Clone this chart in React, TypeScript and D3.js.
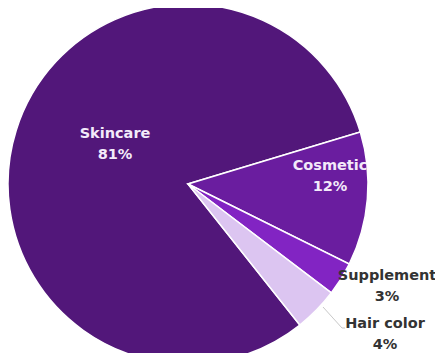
import React from "react";
import * as d3 from "d3";

const categories = ["Skincare", "Cosmetic", "Supplement", "Hair color"];
const values = [81, 12, 3, 4];
const colors = ["#52177a", "#6a1d9f", "#8224c3", "#dcc5f1"];

const W = 443;
const H = 361;
const cx = 188;
const cy = 184;
const R = 180;

export default function App() {
  const data = categories.map((c, i) => ({ name: c, value: values[i], color: colors[i] }));
  const start = (141.6 * Math.PI) / 180;
  const pie = d3
    .pie<any>()
    .value((d) => d.value)
    .sort(null)
    .startAngle(start)
    .endAngle(start + 2 * Math.PI);
  const arcs = pie(data);
  const arc = d3.arc<any>().innerRadius(0).outerRadius(R);

  return (
    <div style={{ margin: -8 }}>
      <svg width={W} height={H} style={{ display: "block", background: "#fff" }}>
        <defs>
          <clipPath id="pieclip">
            <circle cx={cx} cy={cy} r={R} />
          </clipPath>
        </defs>
        <g transform={`translate(${cx},${cy})`}>
          {arcs.map((a, i) => (
            <path key={i} d={arc(a) as string} fill={a.data.color} stroke="#fff" strokeWidth={1.5} />
          ))}
        </g>
        <g fontFamily="DejaVu Sans, Verdana, sans-serif" fontWeight="bold" fontSize={14.5} textAnchor="middle">
          <text x={115} y={138} fill="#f3eafa">{categories[0]}</text>
          <text x={115} y={159} fill="#f3eafa">{values[0]}%</text>
          <g clipPath="url(#pieclip)">
            <text x={330} y={170} fill="#f3eafa">{categories[1]}</text>
            <text x={330} y={191} fill="#f3eafa">{values[1]}%</text>
          </g>
          <text x={387} y={280} fill="#333">{categories[2]}</text>
          <text x={387} y={301} fill="#333">{values[2]}%</text>
          <text x={385} y={328} fill="#333">{categories[3]}</text>
          <text x={385} y={349} fill="#333">{values[3]}%</text>
        </g>
        <polyline points="323,307 342,328 345,328" fill="none" stroke="#c8c8c8" strokeWidth={1} />
      </svg>
    </div>
  );
}
